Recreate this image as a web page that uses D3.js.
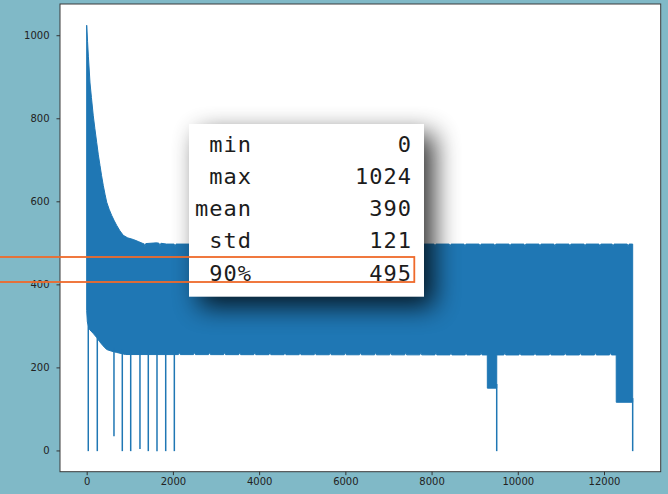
<!DOCTYPE html>
<html>
<head>
<meta charset="utf-8">
<script src="https://cdn.jsdelivr.net/npm/d3@7"></script>
<style>
  html, body { margin: 0; padding: 0; background: #80b9c7; }
  svg { display: block; }
</style>
</head>
<body>
<svg id="chart" width="668" height="494"></svg>
<script>
// ---- series: envelope of the dense sample trace (sample index -> value) ----
const upperIdx = [0, 20, 40, 77, 110, 153, 190, 232, 270, 309, 345, 385, 425, 464, 520, 580, 640, 696, 770, 849, 950, 1081, 1200, 1313, 1624, 1850, 12665];
const upperVal = [1024, 985, 948, 885, 850, 806, 775, 742, 712, 686, 662, 638, 617, 598, 581, 566, 553, 542, 529, 518, 512, 508, 503, 498, 500, 497, 497];

const lowerIdx = [0, 15, 60, 150, 232, 300, 380, 464, 580, 696, 900, 9293, 9294, 9511, 9512, 12283, 12284, 12665];
const lowerVal = [337, 310, 292, 282, 272, 262, 252, 243, 239, 236, 231, 230, 150, 150, 230, 230, 116, 116];

// small dips along the top edge and small rises along the bottom edge
const upperNotchIdx = [1350, 1700, 2050, 2400, 2760, 3100, 3450, 3800, 4150, 4500, 4850, 5200, 5560, 5900,
  6250, 6600, 6950, 7300, 7650, 8080, 8430, 8775, 9125, 9470, 9820, 10165, 10515, 10860, 11210, 11560, 11905, 12210, 12560];
const upperNotchVal = 491;
const lowerNotchIdx = [2150, 2500, 2850, 3200, 3550, 3900, 4250, 4600, 4950, 5300, 5650, 6000, 6350, 6700,
  7050, 7400, 7750, 8100, 8450, 8800, 9150, 9700, 10050, 10400, 10750, 11100, 11450, 11800, 12150];
const lowerNotchVal = 236;

// isolated drops of the trace
const dropIdx = [37, 246, 633, 826, 1021, 1236, 1429, 1631, 1833, 2033, 9511, 12665];
const dropVal = [0, 0, 36, 0, 0, 5, 0, 0, 0, 0, 0, 0];

// ---- axes ----
const xTicks = [0, 2000, 4000, 6000, 8000, 10000, 12000];
const yTicks = [0, 200, 400, 600, 800, 1000];

// ---- summary table ----
const statNames = ["min", "max", "mean", "std", "90%"];
const statValues = [0, 1024, 390, 121, 495];
const highlightedStat = "90%";

const svg = d3.select("#chart");
const W = 668, H = 494;
const plot = { left: 60, right: 660.7, top: 4, bottom: 471.7 };

const x = d3.scaleLinear().domain([-619, 13315]).range([plot.left, plot.right]);
const y = d3.scaleLinear().domain([-51.2, 1075.2]).range([plot.bottom, plot.top]);

svg.append("rect").attr("width", W).attr("height", H).attr("fill", "#80b9c7");
svg.append("rect")
  .attr("x", plot.left).attr("y", plot.top)
  .attr("width", plot.right - plot.left).attr("height", plot.bottom - plot.top)
  .attr("fill", "#ffffff");

// envelope polygon: top edge left->right, bottom edge right->left
function withNotches(idx, val, notches, notchVal) {
  const pts = idx.map((d, i) => [d, val[i]]);
  const level = d3.scaleLinear().domain(idx).range(val);
  notches.forEach(n => {
    const base = level(n);
    pts.push([n - 22, base], [n, notchVal], [n + 22, base]);
  });
  return pts.sort((a, b) => a[0] - b[0]);
}
const topEdge = withNotches(upperIdx, upperVal, upperNotchIdx, upperNotchVal);
const bottomEdge = withNotches(lowerIdx, lowerVal, lowerNotchIdx, lowerNotchVal);
const outline = topEdge.concat(bottomEdge.slice().reverse());

const g = svg.append("g");
g.append("path")
  .attr("d", d3.line().x(d => x(d[0])).y(d => y(d[1]))(outline) + "Z")
  .attr("fill", "#1f77b4")
  .attr("stroke", "#1f77b4")
  .attr("stroke-width", 1);

const lowerAt = d3.scaleLinear().domain(lowerIdx).range(lowerVal);
g.selectAll("line.drop").data(dropIdx).join("line")
  .attr("class", "drop")
  .attr("x1", d => x(d)).attr("x2", d => x(d))
  .attr("y1", d => y(lowerAt(d) + 10))
  .attr("y2", (d, i) => y(dropVal[i]) + 0.7)
  .attr("stroke", "#1f77b4")
  .attr("stroke-width", 1.5);

// spines
svg.append("rect")
  .attr("x", plot.left).attr("y", plot.top)
  .attr("width", plot.right - plot.left).attr("height", plot.bottom - plot.top)
  .attr("fill", "none").attr("stroke", "#3a3a3a").attr("stroke-width", 1);

// x axis
const xAxis = d3.axisBottom(x).tickValues(xTicks).tickSize(3.5).tickPadding(3).tickFormat(d3.format("d"));
svg.append("g").attr("transform", `translate(0,${plot.bottom})`).call(xAxis)
  .call(a => a.select(".domain").remove())
  .call(a => a.selectAll("line").attr("stroke", "#333"))
  .call(a => a.selectAll("text").attr("fill", "#222").attr("font-size", "10px")
    .attr("font-family", "DejaVu Sans, sans-serif"));

// y axis
const yAxis = d3.axisLeft(y).tickValues(yTicks).tickSize(3.5).tickPadding(7).tickFormat(d3.format("d"));
svg.append("g").attr("transform", `translate(${plot.left},0)`).call(yAxis)
  .call(a => a.select(".domain").remove())
  .call(a => a.selectAll("line").attr("stroke", "#333"))
  .call(a => a.selectAll("text").attr("fill", "#222").attr("font-size", "10px")
    .attr("font-family", "DejaVu Sans, sans-serif"));

// summary table card with drop shadow
const card = { x: 189, y: 124, w: 235, h: 172.7 };
const defs = svg.append("defs");
const f = defs.append("filter").attr("id", "shadow")
  .attr("x", "-40%").attr("y", "-40%").attr("width", "180%").attr("height", "180%");
f.append("feGaussianBlur").attr("stdDeviation", 13);

svg.append("rect")
  .attr("x", card.x + 10).attr("y", card.y + 10)
  .attr("width", card.w).attr("height", card.h)
  .attr("fill", "#000").attr("opacity", 0.8)
  .attr("filter", "url(#shadow)");
svg.append("rect")
  .attr("x", card.x).attr("y", card.y)
  .attr("width", card.w).attr("height", card.h)
  .attr("fill", "#ffffff");

const rowY = d3.scalePoint().domain(statNames).range([151.5, 280.5]);
const tbl = svg.append("g")
  .attr("font-family", "DejaVu Sans Mono, monospace")
  .attr("font-size", "22px")
  .attr("letter-spacing", "1px")
  .attr("fill", "#1c1c1c");
tbl.selectAll("text.name").data(statNames).join("text")
  .attr("class", "name")
  .attr("x", 252).attr("y", d => rowY(d))
  .attr("text-anchor", "end")
  .text(d => d);
tbl.selectAll("text.val").data(statValues).join("text")
  .attr("class", "val")
  .attr("x", 412).attr("y", (d, i) => rowY(statNames[i]))
  .attr("text-anchor", "end")
  .text(d => d);

// highlight box around the selected row, running off the left edge
const hy = rowY(highlightedStat);
svg.append("rect")
  .attr("x", -10).attr("y", hy - 23.5)
  .attr("width", 424.3).attr("height", 25)
  .attr("fill", "none")
  .attr("stroke", "#ef6a2b")
  .attr("stroke-width", 1.8);
</script>
</body>
</html>
